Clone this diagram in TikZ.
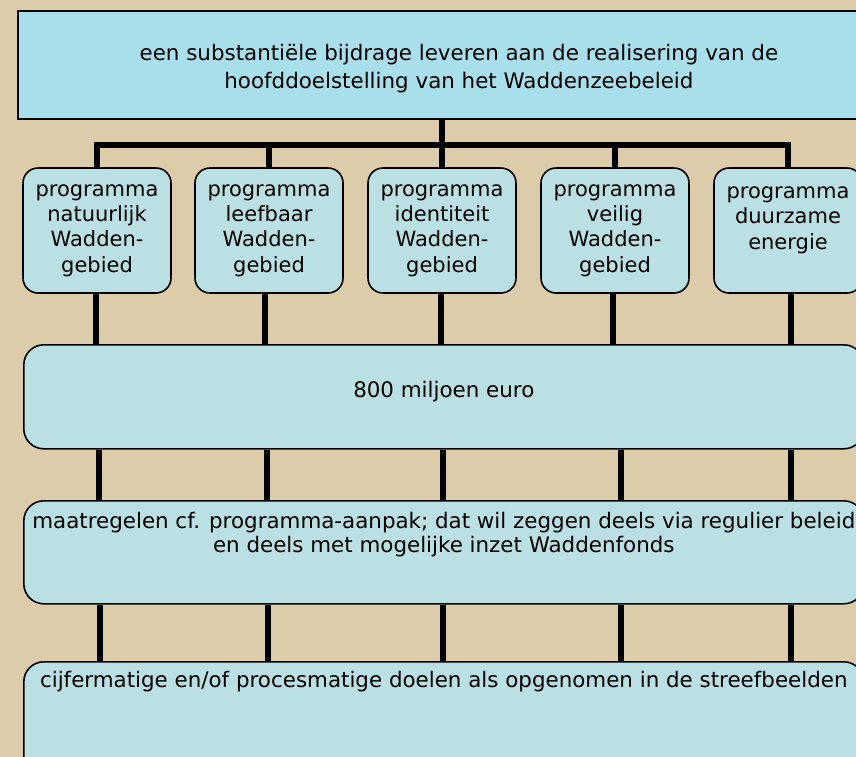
\documentclass[tikz,border=0pt]{standalone}
\usepackage{fontspec}
\setmainfont{DejaVu Sans}
\usetikzlibrary{positioning}
\definecolor{zand}{RGB}{220,204,170}
\definecolor{kopblauw}{RGB}{169,223,234}
\definecolor{vakblauw}{RGB}{186,224,227}

\begin{document}
\begin{tikzpicture}[x=1pt,y=-1pt,
    link/.style={line width=5.5pt},
    vak/.style={draw,line width=1.6pt,fill=vakblauw,rounded corners=20pt,inner sep=0pt},
    tekst/.style={font=\fontsize{21.4}{23.5}\selectfont,align=center}]%
                    \useasboundingbox (0,0) rectangle (856,756);
                    \clip (-3,-3) rectangle (859,759);
                    \fill[zand] (-3,-3) rectangle (859,759);
                    %% hoofddoel
                    \node[draw,line width=1.8pt,fill=kopblauw,anchor=north west,
                          minimum width=882pt,minimum height=108pt,inner sep=0pt] (doel) at (17,10) {};
                    \node[font=\fontsize{21.4}{28}\selectfont,align=center] (doeltxt) at ([yshift=-4pt]doel.center)
                        {een substantiële bijdrage leveren aan de realisering van de\\
                         hoofddoelstelling van het Waddenzeebeleid};
                    %% programma's
                    \begin{scope}
                        \tikzstyle{every node}=[draw,line width=1.6pt,fill=vakblauw,rounded corners=15pt,
                              minimum width=148pt,minimum height=125pt,inner sep=0pt,
                              font=\fontsize{21}{25.3}\selectfont,align=center];%%
                        \node (p1) at (97,230.5)  {programma\\natuurlijk\\Wadden-\\gebied}; %%
                        \node (p2) at (269,230.5)  {programma\\leefbaar\\Wadden-\\gebied}; %%
                        \node (p3) at (442,230.5)  {programma\\identiteit\\Wadden-\\gebied}; %%
                        \node (p4) at (615,230.5)  {programma\\veilig\\Wadden-\\gebied}; %%
                        \node (p5) at (788,230.5)  {programma\\duurzame\\energie\\\mbox{}}; %%
                    \end{scope}
                    %% geld, maatregelen, doelen
                    \node[vak,anchor=north west,minimum width=840pt,minimum height=104pt] (geld) at (23,344) {};
                    \node[tekst] (geldtxt) at ([yshift=5pt]geld.center) {800 miljoen euro};
                    \node[vak,anchor=north west,minimum width=840pt,minimum height=103pt] (maat) at (23,500) {};
                    \node[tekst,below=9pt of maat.north] (maattxt)
                        {maatregelen cf. programma-aanpak; dat wil zeggen deels via regulier beleid\\
                         en deels met mogelijke inzet Waddenfonds};
                    \node[vak,anchor=north west,minimum width=840pt,minimum height=120pt] (cijfer) at (23,661) {};
                    \node[tekst,below=6.5pt of cijfer.north] (cijfertxt)
                        {cijfermatige en/of procesmatige doelen als opgenomen in de streefbeelden};
                    %% verbindingen
                    \coordinate (balk) at (441,145);
                    \draw[link,line cap=rect] (p1.north |- balk) -- (p5.north |- balk); %%
                    \draw[link,line width=6.5pt] (doel.south -| p3.north) -- (p3.north); %%
                    \foreach \p in {p1,p2,p4,p5}
                        \draw[link] (\p.north |- balk) -- (\p.north); %%
                    \foreach \x in {96,265,441,613,791}
                        \draw[link] (\x,0 |- p1.south) -- (\x,0 |- geld.north); %%
                    \foreach \x in {99,267,443,621,791}
                        \draw[link] (\x,0 |- geld.south) -- (\x,0 |- maat.north); %%
                    \foreach \x in {100,268,443,621,791}
                        \draw[link] (\x,0 |- maat.south) -- (\x,0 |- cijfer.north); %%
                    \end{tikzpicture}
\end{document}
